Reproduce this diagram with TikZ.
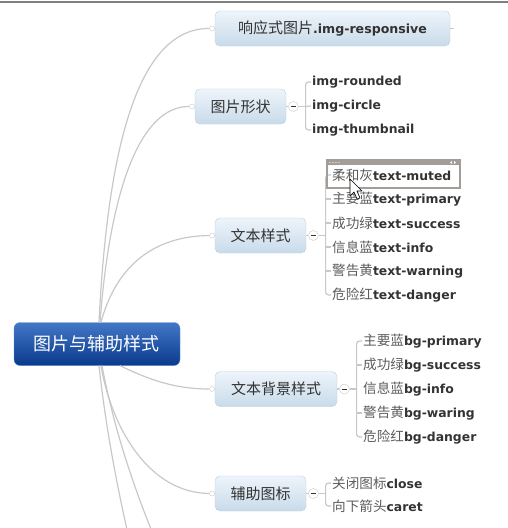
\documentclass[tikz,border=0pt]{standalone}
\usepackage{fontspec}
\setmainfont{DejaVu Sans}
\newfontfamily\cjk{Noto Sans CJK SC}
\usetikzlibrary{positioning}

\definecolor{linegray}{HTML}{C8C8C8}
\definecolor{boxtop}{HTML}{EEF4FA}
\definecolor{boxbot}{HTML}{C8DBEA}
\definecolor{boxline}{HTML}{B9CFDF}
\definecolor{roottop}{HTML}{4277C6}
\definecolor{rootbot}{HTML}{0A3A8C}
\definecolor{rootline}{HTML}{5F8FD0}
\definecolor{txtgray}{HTML}{333333}
\definecolor{zhgray}{HTML}{5C5C5C}
\definecolor{selgray}{HTML}{A49C96}

\newcommand\zhen[2]{{\cjk\fontsize{13.6}{14}\selectfont\color{zhgray}#1}\textbf{#2}}

\begin{document}
\begin{tikzpicture}[x=1pt,y=-1pt,
  root/.style={draw=rootline, top color=roottop, bottom color=rootbot, rounded corners=6pt,
    minimum width=166pt, minimum height=43pt, text=white, font=\cjk\fontsize{18}{20}\selectfont},
  topic/.style={draw=boxline, top color=boxtop, bottom color=boxbot, rounded corners=5pt,
    minimum height=35pt, text=txtgray, font=\cjk\fontsize{15}{17}\selectfont},
  leaf/.style={anchor=west, inner sep=1pt, text=txtgray, font=\fontsize{12.4}{14}\selectfont},
  dot/.style={circle, draw=linegray, fill=white, minimum size=5pt, inner sep=0pt},
  fold/.style={circle, draw=linegray, fill=white, minimum size=10pt, inner sep=0pt},
  link/.style={draw=linegray, line width=1.2pt},
]
  \useasboundingbox (0,0) rectangle (508,528);
  \clip (0,0) rectangle (508,528);
  \draw[gray, line width=1.5pt] (0,2) -- (508,2);

  % central topic
  \node[root] (root) at (97,344) {图片与辅助样式};

  % main topics
  \node[topic, minimum width=235pt] (resp) at (332.5,28.5)
    {响应式图片{\rmfamily\bfseries\fontsize{12.6}{14}\selectfont.img-responsive}};
  \node[topic, minimum width=91pt] (shape) at (240.5,106.5) {图片形状};
  \node[topic, minimum width=91pt] (tstyle) at (260.5,235.5) {文本样式};
  \node[topic, minimum width=122pt] (bgstyle) at (276,389) {文本背景样式};
  \node[topic, minimum width=91pt] (icon) at (260.5,493.5) {辅助图标};

  \foreach \t/\d in {resp/d1, shape/d2, tstyle/d3, bgstyle/d4, icon/d5}
    \node[dot, left=0pt of \t] (\d) {};
  \draw[link] (resp.east) -- ++(4,0);

  \coordinate (off1) at (128,534);
  \coordinate (off2) at (153,534);

  \draw[link] ([xshift=2pt]root.north) .. controls (108,140) and (140,28) .. (d1);
  \draw[link] ([xshift=3pt]root.north) .. controls (110,190) and (140,106) .. (d2);
  \draw[link] ([xshift=4pt]root.north) .. controls (115,270) and (150,236) .. (d3);
  \draw[link] ([xshift=23pt]root.south) .. controls (150,380) and (175,389) .. (d4);
  \draw[link] ([xshift=4pt]root.south) .. controls (112,430) and (150,493) .. (d5);
  \draw[link] ([xshift=2pt]root.south) .. controls (106,430) and (118,490) .. (off1);
  \draw[link] ([xshift=5pt]root.south) .. controls (114,430) and (135,490) .. (off2);

  % fold buttons
  \foreach \t/\f in {shape/f2, tstyle/f3, bgstyle/f4, icon/f5} {
    \node[fold, right=2pt of \t] (\f) {};
    \draw[link] (\t) -- (\f);
    \draw[txtgray, line width=0.8pt] ([xshift=-2.5pt]\f.center) -- ([xshift=2.5pt]\f.center);
    \coordinate (b\f) at ([xshift=7pt]\f.east);
    \draw[link] (\f) -- (b\f);
  }

  % subtopics
  \foreach \en [count=\i] in {img-rounded, img-circle, img-thumbnail}
    \node[leaf] (s\i) at (311,{58+24*\i}) {\textbf{\en}};
  \foreach \zh/\en [count=\i] in {柔和灰/text-muted, 主要蓝/text-primary, 成功绿/text-success,
      信息蓝/text-info, 警告黄/text-warning, 危险红/text-danger}
    \node[leaf] (t\i) at (331,{151+24*\i}) {\zhen{\zh}{\en}};
  \foreach \zh/\en [count=\i] in {主要蓝/bg-primary, 成功绿/bg-success, 信息蓝/bg-info,
      警告黄/bg-waring, 危险红/bg-danger}
    \node[leaf] (g\i) at (362,{317+24*\i}) {\zhen{\zh}{\en}};
  \foreach \zh/\en [count=\i] in {关闭图标/close, 向下箭头/caret}
    \node[leaf] (c\i) at (331,{460+23*\i}) {\zhen{\zh}{\en}};

  % brackets
  \draw[link, rounded corners=3pt] (s1.west) -| (bf2) |- (s3.west);
  \draw[link, rounded corners=3pt] (t1.west) -| (bf3) |- (t6.west);
  \draw[link, rounded corners=3pt] (g1.west) -| (bf4) |- (g5.west);
  \draw[link, rounded corners=3pt] (c1.west) -| (bf5) |- (c2.west);
  \foreach \n in {t2, t3, t4, t5} \draw[link] (\n.west) -- (\n.west -| bf3);
  \foreach \n in {g2, g4} \draw[link] (\n.west) -- (\n.west -| bf4);
  \draw[link] (s2.west) -- (bf2);

  % selected subtopic
  \draw[selgray, line width=1.2pt] (327,160) rectangle (460,188);
  \fill[selgray] (327,160) rectangle (460,165);
  \foreach \x in {330,333,336,339} \fill[white] (\x,162.5) circle (0.6);
  \fill[white] (450,162.5) -- (452,161) -- (452,164) -- cycle;
  \fill[white] (456,162.5) -- (454,161) -- (454,164) -- cycle;

  % mouse pointer
  \draw[black, fill=white, line width=0.6pt, line join=round] (350,179) -- (350,196) -- (354,192)
    -- (357,199) -- (360,198) -- (357,191) -- (362,191) -- cycle;
\end{tikzpicture}
\end{document}
